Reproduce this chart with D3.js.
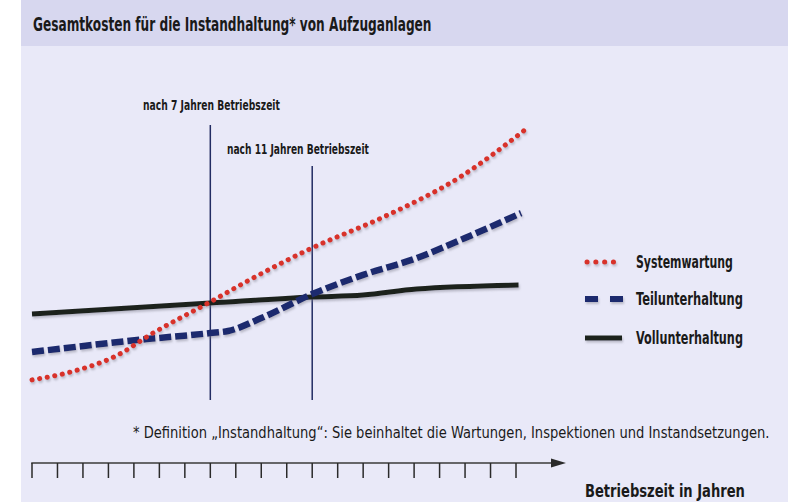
<!DOCTYPE html>
<html>
<head>
<meta charset="utf-8">
<script src="https://cdn.jsdelivr.net/npm/d3@7"></script>
<style>
  body { margin: 0; background: #ffffff; }
  svg { display: block; }
  text { font-family: "DejaVu Sans Condensed", "DejaVu Sans", sans-serif; font-stretch: condensed; fill: #1a1a1a; }
</style>
</head>
<body>
<div id="chart"></div>
<script>
// Kosten über die Betriebszeit (Index)
const sysYears  = [0, 1.5, 3.3, 4.75, 7, 8.6, 11, 13.8, 16.8, 19.45];
const sysCost   = [6.7, 9.3, 14.7, 22.3, 32.7, 40.3, 50.7, 61, 74.3, 90.7];

const teilYears = [0, 4.5, 7, 7.7, 9, 11, 13, 15.1, 17, 19.2];
const teilCost  = [16, 20.3, 22.3, 23, 27.3, 35.3, 41.7, 47.3, 54, 62.3];

const vollYears = [0, 7, 11, 13, 15.1, 19.1];
const vollCost  = [28.7, 32.3, 34.3, 35, 37, 38.3];

const tickYears = [0, 1, 2, 3, 4, 5, 6, 7, 8, 9, 10, 11, 12, 13, 14, 15, 16, 17, 18, 19];

const markerYears  = [7, 11];
const markerLabels = ["nach 7 Jahren Betriebszeit", "nach 11 Jahren Betriebszeit"];

const seriesNames = ["Systemwartung", "Teilunterhaltung", "Vollunterhaltung"];

const titleText = "Gesamtkosten für die Instandhaltung* von Aufzuganlagen";
const noteText  = "* Definition „Instandhaltung“: Sie beinhaltet die Wartungen, Inspektionen und Instandsetzungen.";
const axisText  = "Betriebszeit in Jahren";

// Text an x,y setzen und horizontal auf die Breite im Original stauchen
function placeText(parent, str, px, py, w, size, weight) {
  let t = parent.append("text")
    .attr("x", 0).attr("y", 0)
    .attr("font-size", size)
    .attr("font-weight", weight)
    .text(str);
  let len = t.node().getComputedTextLength();
  let k = len > 0 ? w / len : 1;
  t.attr("transform", `translate(${px},${py}) scale(${k},1)`);
  return t;
}

function chart(width, height, selector) {

  const red = "#d8322b", navy = "#1c2a6e", black = "#1d231f", lineNavy = "#222c63";

  let svg = d3.select(selector)
    .append("svg")
    .attr("width", width)
    .attr("height", height);

  let defs = svg.append("defs");
  defs.append("filter")
      .attr("id", "shadow")
      .attr("filterUnits", "userSpaceOnUse")
      .attr("x", 0).attr("y", 0).attr("width", width).attr("height", height)
    .append("feDropShadow")
      .attr("dx", 1).attr("dy", 2).attr("stdDeviation", 1)
      .attr("flood-color", "#7a7a8a").attr("flood-opacity", 0.45);

  // Hintergrund
  svg.append("rect")
    .attr("x", 21).attr("y", 0)
    .attr("width", width - 21).attr("height", height)
    .attr("fill", "#e9e9f8");

  svg.append("rect")
    .attr("x", 21).attr("y", 0)
    .attr("width", width - 21).attr("height", 46)
    .attr("fill", "#d7d7ef");

  placeText(svg, titleText, 33, 31, 399, 20, "bold");

  // Skalen
  let x = d3.scaleLinear().domain([0, 19]).range([32, 516]);
  let y = d3.scaleLinear().domain([0, 100]).range([400, 100]);

  // Markierungen
  let markerTops = [125, 166];
  let markerTextY = [110, 154];
  let markerTextX = [143, 227];
  let markerTextW = [137, 142];

  let markers = svg.append("g");
  markerYears.forEach((yr, i) => {
    markers.append("line")
      .attr("x1", x(yr)).attr("x2", x(yr))
      .attr("y1", markerTops[i]).attr("y2", y(0))
      .attr("stroke", lineNavy)
      .attr("stroke-width", 1.5);
    placeText(markers, markerLabels[i], markerTextX[i], markerTextY[i], markerTextW[i], 14, "bold");
  });

  let line = d3.line()
    .x(d => x(d[0]))
    .y(d => y(d[1]))
    .curve(d3.curveMonotoneX);

  let lines = svg.append("g").attr("filter", "url(#shadow)");

  lines.append("path")
    .datum(d3.zip(vollYears, vollCost))
    .attr("d", line)
    .attr("fill", "none")
    .attr("stroke", black)
    .attr("stroke-width", 5);

  lines.append("path")
    .datum(d3.zip(teilYears, teilCost))
    .attr("d", line)
    .attr("fill", "none")
    .attr("stroke", navy)
    .attr("stroke-width", 6.5)
    .attr("stroke-dasharray", "12 4");

  lines.append("path")
    .datum(d3.zip(sysYears, sysCost))
    .attr("d", line)
    .attr("fill", "none")
    .attr("stroke", red)
    .attr("stroke-width", 5)
    .attr("stroke-linecap", "round")
    .attr("stroke-dasharray", "0.1 7.6");

  // Legende
  let legendY = [262, 299, 338];
  let legendW = [97, 107, 107];
  let legend = svg.append("g").attr("filter", "url(#shadow)");

  legend.append("line")
    .attr("x1", 587).attr("x2", 622).attr("y1", legendY[0]).attr("y2", legendY[0])
    .attr("stroke", red).attr("stroke-width", 5)
    .attr("stroke-linecap", "round").attr("stroke-dasharray", "0.1 8.7");
  legend.append("line")
    .attr("x1", 585).attr("x2", 623).attr("y1", legendY[1]).attr("y2", legendY[1])
    .attr("stroke", navy).attr("stroke-width", 6)
    .attr("stroke-dasharray", "13 12");
  legend.append("line")
    .attr("x1", 585).attr("x2", 622).attr("y1", legendY[2]).attr("y2", legendY[2])
    .attr("stroke", black).attr("stroke-width", 5);

  let legendText = svg.append("g");
  seriesNames.forEach((name, i) => {
    placeText(legendText, name, 636, legendY[i] + 6, legendW[i], 17.5, "bold");
  });

  // Fußnote
  placeText(svg, noteText, 133, 438, 637, 15, "normal");

  // Zeitachse
  let axisY = 463;
  let axis = svg.append("g");
  axis.append("line")
    .attr("x1", x(0) - 0.75).attr("x2", 552)
    .attr("y1", axisY).attr("y2", axisY)
    .attr("stroke", "#3a3a3a").attr("stroke-width", 1.6);
  axis.append("path")
    .attr("d", `M551,${axisY - 4.5}L566,${axisY}L551,${axisY + 4.5}Z`)
    .attr("fill", "#2a2a2a");
  axis.selectAll("line.tick")
    .data(tickYears)
    .join("line")
    .attr("class", "tick")
    .attr("x1", d => x(d)).attr("x2", d => x(d))
    .attr("y1", axisY).attr("y2", axisY + 15)
    .attr("stroke", "#2a2a2a").attr("stroke-width", 1.5);

  placeText(svg, axisText, 585, 497, 160, 18, "bold");
}

chart(788, 502, "#chart");
</script>
</body>
</html>
